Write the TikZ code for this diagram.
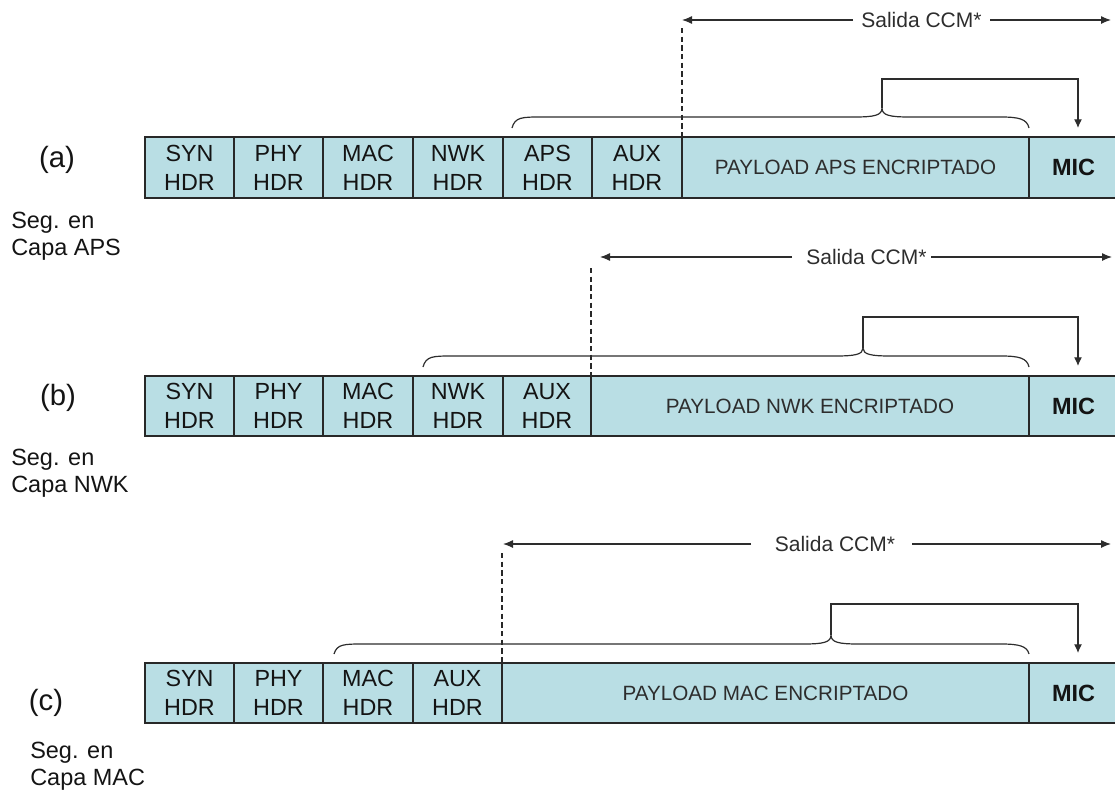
\documentclass[tikz,border=0pt]{standalone}
\usepackage{fontspec}
\setmainfont{Liberation Sans}
\usetikzlibrary{arrows.meta}
\definecolor{cellfill}{RGB}{185,222,228}
\definecolor{edge}{RGB}{40,40,40}
\definecolor{txt}{RGB}{20,20,20}
\definecolor{soft}{RGB}{45,45,45}
\tikzset{
  cellbox/.style={draw=edge, line width=1pt, fill=cellfill, inner sep=0pt, outer sep=0pt,
    align=center, text=txt, font=\fontsize{17.5}{21.75}\selectfont},
  paybox/.style={cellbox, text=soft, font=\fontsize{15.5}{18}\selectfont},
  micbox/.style={cellbox, font=\bfseries\fontsize{17.6}{20}\selectfont},
  salida/.style={inner sep=0pt, text=soft, font=\fontsize{15.75}{18}\selectfont},
  outarrow/.style={draw=soft, line width=0.9pt, -{Latex[length=7.5pt,width=6pt]}},
  micarrow/.style={draw=soft, line width=0.9pt, -{Latex[length=6.5pt,width=6pt]}},
  bracestyle/.style={draw=soft, line width=0.9pt},
  dashline/.style={draw=edge, line width=1.1pt, dash pattern=on 4pt off 2.5pt},
  rowlabel/.style={inner sep=0pt, text=txt, font=\fontsize{22}{26}\selectfont},
  seglabel/.style={inner sep=0pt, anchor=base west, text=txt, font=\fontsize{17.6}{20}\selectfont}
}
\newcommand{\mycell}[7]{% style, name, x1, x2, y1, y2, text
  \node[#1, minimum width={(#4-#3)*0.75pt}, minimum height={(#6-#5)*0.75pt}] (#2) at ({(#3+#4)/2},{(#5+#6)/2}) {#7};}
\newcommand{\mybrace}[6]{% xL, xM, xR, yEnd, yLine, yTip
  \draw[bracestyle] (#1,#4) .. controls ({#1+3},#5) and ({#1+10},#5) .. ({#1+30},#5)
    -- ({#2-28},#5) .. controls ({#2-8},#5) and (#2,{#5-1.5}) .. (#2,#6)
    .. controls (#2,{#5-1.5}) and ({#2+8},#5) .. ({#2+28},#5)
    -- ({#3-28},#5) .. controls ({#3-10},#5) and ({#3-2},{#5+2}) .. (#3,#4);}
\begin{document}
\begin{tikzpicture}[x=0.75pt,y=-0.75pt]
\useasboundingbox (0,0) rectangle (1115,801);

% ---------------- row (a)
\mycell{cellbox}{aSYN}{145}{234}{137}{198}{SYN\\HDR}
\mycell{cellbox}{aPHY}{234}{323}{137}{198}{PHY\\HDR}
\mycell{cellbox}{aMAC}{323}{413}{137}{198}{MAC\\HDR}
\mycell{cellbox}{aNWK}{413}{503}{137}{198}{NWK\\HDR}
\mycell{cellbox}{aAPS}{503}{592}{137}{198}{APS\\HDR}
\mycell{cellbox}{aAUX}{592}{682}{137}{198}{AUX\\HDR}
\mycell{paybox}{aPAY}{682}{1029}{137}{198}{PAYLOAD APS ENCRIPTADO}
\mycell{micbox}{aMIC}{1029}{1118}{137}{198}{MIC}

\node[rowlabel] (aLab) at (57,160) {(a)};
\node[seglabel] (aSeg1) at (11,228) {Seg. en};
\node[seglabel] (aSeg2) at (11,255) {Capa APS};

\node[salida] (aSal) at (921.5,20) {Salida CCM*};
\coordinate (aSalL) at (853,20);
\coordinate (aSalR) at (990,20);
\coordinate (aTipL) at (682,20);
\coordinate (aTipR) at (1111,20);
\draw[outarrow] (aSalL) -- (aTipL);
\draw[outarrow] (aSalR) -- (aTipR);
\coordinate (aDash) at (682,28);
\draw[dashline] (aDash) -- (aPAY.north west);

\mybrace{512}{882}{1029}{128}{117}{108}
\coordinate (aBrTip) at (882,108);
\coordinate (aMicEnd) at (1078,128);
\draw[micarrow] (aBrTip) -- (882,79) -| (aMicEnd);

% ---------------- row (b)
\mycell{cellbox}{bSYN}{145}{234}{376}{436}{SYN\\HDR}
\mycell{cellbox}{bPHY}{234}{323}{376}{436}{PHY\\HDR}
\mycell{cellbox}{bMAC}{323}{413}{376}{436}{MAC\\HDR}
\mycell{cellbox}{bNWK}{413}{503}{376}{436}{NWK\\HDR}
\mycell{cellbox}{bAUX}{503}{591}{376}{436}{AUX\\HDR}
\mycell{paybox}{bPAY}{591}{1029}{376}{436}{PAYLOAD NWK ENCRIPTADO}
\mycell{micbox}{bMIC}{1029}{1118}{376}{436}{MIC}

\node[rowlabel] (bLab) at (58,398) {(b)};
\node[seglabel] (bSeg1) at (11,465) {Seg. en};
\node[seglabel] (bSeg2) at (11,492) {Capa NWK};

\node[salida] (bSal) at (866.5,257) {Salida CCM*};
\coordinate (bSalL) at (792,257);
\coordinate (bSalR) at (931,257);
\coordinate (bTipL) at (600,257);
\coordinate (bTipR) at (1112,257);
\draw[outarrow] (bSalL) -- (bTipL);
\draw[outarrow] (bSalR) -- (bTipR);
\coordinate (bDash) at (591,268);
\draw[dashline] (bDash) -- (bPAY.north west);

\mybrace{423}{863}{1029}{367}{356}{348}
\coordinate (bBrTip) at (863,348);
\coordinate (bMicEnd) at (1078,366);
\draw[micarrow] (bBrTip) -- (863,317) -| (bMicEnd);

% ---------------- row (c)
\mycell{cellbox}{cSYN}{145}{234}{663}{723}{SYN\\HDR}
\mycell{cellbox}{cPHY}{234}{323}{663}{723}{PHY\\HDR}
\mycell{cellbox}{cMAC}{323}{413}{663}{723}{MAC\\HDR}
\mycell{cellbox}{cAUX}{413}{502}{663}{723}{AUX\\HDR}
\mycell{paybox}{cPAY}{502}{1029}{663}{723}{PAYLOAD MAC ENCRIPTADO}
\mycell{micbox}{cMIC}{1029}{1118}{663}{723}{MIC}

\node[rowlabel] (cLab) at (46,703) {(c)};
\node[seglabel] (cSeg1) at (30,758) {Seg. en};
\node[seglabel] (cSeg2) at (30,785) {Capa MAC};

\node[salida] (cSal) at (835,544) {Salida CCM*};
\coordinate (cSalL) at (751,544);
\coordinate (cSalR) at (912,544);
\coordinate (cTipL) at (503,544);
\coordinate (cTipR) at (1111,544);
\draw[outarrow] (cSalL) -- (cTipL);
\draw[outarrow] (cSalR) -- (cTipR);
\coordinate (cDash) at (502,553);
\draw[dashline] (cDash) -- (cPAY.north west);

\mybrace{334}{831}{1029}{654}{644}{635}
\coordinate (cBrTip) at (831,635);
\coordinate (cMicEnd) at (1078,653);
\draw[micarrow] (cBrTip) -- (831,604) -| (cMicEnd);
\end{tikzpicture}
\end{document}
